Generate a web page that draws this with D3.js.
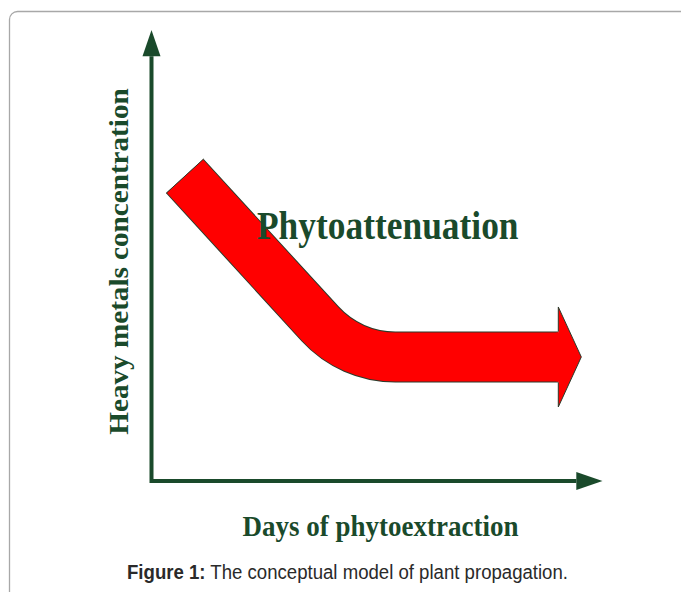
<!DOCTYPE html>
<html>
<head>
<meta charset="utf-8">
<script src="https://cdn.jsdelivr.net/npm/d3@7"></script>
<style>
  body { margin: 0; background: #fff; }
  svg { display: block; }
</style>
</head>
<body>
<div id="plot1"></div>
<script>
// conceptual trend: days (0-100) vs concentration (0-100)
var trendDays = [7.4, 44.1, 90.2];
var trendConc = [67.6, 27.5, 27.5];
var tipDay = 95.3;

var yLabel = "Heavy metals concentration";
var xLabel = "Days of phytoextraction";
var bandLabel = "Phytoattenuation";
var captionBold = "Figure 1:";
var captionText = " The conceptual model of plant propagation.";

var width = 681,
    height = 592,
    green = "#1a4a2b";

var svg = d3.select("#plot1").append("svg")
    .attr("width", width)
    .attr("height", height);

// frame around the figure
svg.append("rect")
    .attr("x", 9.5).attr("y", 11.5)
    .attr("width", 690).attr("height", 640)
    .attr("rx", 8)
    .attr("fill", "none")
    .attr("stroke", "#a8a8a8")
    .attr("stroke-width", 1.3);

var x = d3.scaleLinear().domain([0, 100]).range([151.5, 602.5]);
var y = d3.scaleLinear().domain([0, 100]).range([481, 30]);

// axes (L shape with arrow heads)
svg.append("path")
    .attr("d", d3.line()([[x(0), y(94.2)], [x(0), y(0)], [x(94.2), y(0)]]))
    .attr("fill", "none")
    .attr("stroke", green)
    .attr("stroke-width", 4)
    .attr("stroke-linejoin", "miter");

svg.append("path")
    .attr("d", d3.line()([[x(0), y(100)], [x(0) + 9, y(94.2)], [x(0) - 9, y(94.2)]]) + "Z")
    .attr("fill", green);
svg.append("path")
    .attr("d", d3.line()([[x(100), y(0)], [x(94.2), y(0) - 9], [x(94.2), y(0) + 9]]) + "Z")
    .attr("fill", green);

// the red band
var pts = trendDays.map(function(d, i) { return [x(d), y(trendConc[i])]; });
var band = d3.path();
band.moveTo(pts[0][0], pts[0][1]);
band.arcTo(pts[1][0], pts[1][1], pts[2][0], pts[2][1], 102);
band.lineTo(pts[2][0], pts[2][1]);

var g = svg.append("g");
g.append("path")
    .attr("d", band.toString())
    .attr("fill", "none")
    .attr("stroke", "#2b3b2b")
    .attr("stroke-width", 51)
    .attr("stroke-linecap", "butt");
g.append("path")
    .attr("d", band.toString())
    .attr("fill", "none")
    .attr("stroke", "#ff0000")
    .attr("stroke-width", 49)
    .attr("stroke-linecap", "butt");

// outline of the starting cap
var dx = pts[1][0] - pts[0][0], dy = pts[1][1] - pts[0][1];
var len = Math.sqrt(dx * dx + dy * dy);
var nx = -dy / len, ny = dx / len;
g.append("line")
    .attr("x1", pts[0][0] + nx * 25.5).attr("y1", pts[0][1] + ny * 25.5)
    .attr("x2", pts[0][0] - nx * 25.5).attr("y2", pts[0][1] - ny * 25.5)
    .attr("stroke", "#2b3b2b")
    .attr("stroke-width", 1);

// arrow head
var hx = pts[2][0], hy = pts[2][1], tx = x(tipDay);
g.append("path")
    .attr("d", d3.line()([[hx - 2, hy - 24.5], [hx, hy - 24.5], [hx, hy - 50], [tx, hy],
                          [hx, hy + 50], [hx, hy + 24.5], [hx - 2, hy + 24.5]]) + "Z")
    .attr("fill", "#ff0000");
g.append("path")
    .attr("d", d3.line()([[hx, hy - 25.5], [hx, hy - 50], [tx, hy], [hx, hy + 50], [hx, hy + 25.5]]))
    .attr("fill", "none")
    .attr("stroke", "#2b3b2b")
    .attr("stroke-width", 1);

// labels
var serif = "'Liberation Serif', 'Times New Roman', serif";

svg.append("text")
    .attr("transform", "translate(128,261.5) scale(1.05,1.1) rotate(-90)")
    .attr("text-anchor", "middle")
    .style("font-family", serif)
    .style("font-weight", "bold")
    .style("font-size", "26.5px")
    .attr("fill", green)
    .text(yLabel);

svg.append("text")
    .attr("transform", "translate(257,239) scale(1,1.12)")
    .style("font-family", serif)
    .style("font-weight", "bold")
    .style("font-size", "35.4px")
    .attr("fill", green)
    .text(bandLabel);

svg.append("text")
    .attr("transform", "translate(380.5,535.5) scale(1,1.12)")
    .attr("text-anchor", "middle")
    .style("font-family", serif)
    .style("font-weight", "bold")
    .style("font-size", "27px")
    .attr("fill", green)
    .text(xLabel);

var cap = svg.append("text")
    .attr("transform", "translate(127,579) scale(1,1.05)")
    .style("font-family", "'Liberation Sans', Arial, sans-serif")
    .style("font-size", "18.6px")
    .attr("fill", "#2a2a2a");
cap.append("tspan").style("font-weight", "bold").text(captionBold);
cap.append("tspan").text(captionText);
</script>
</body>
</html>
